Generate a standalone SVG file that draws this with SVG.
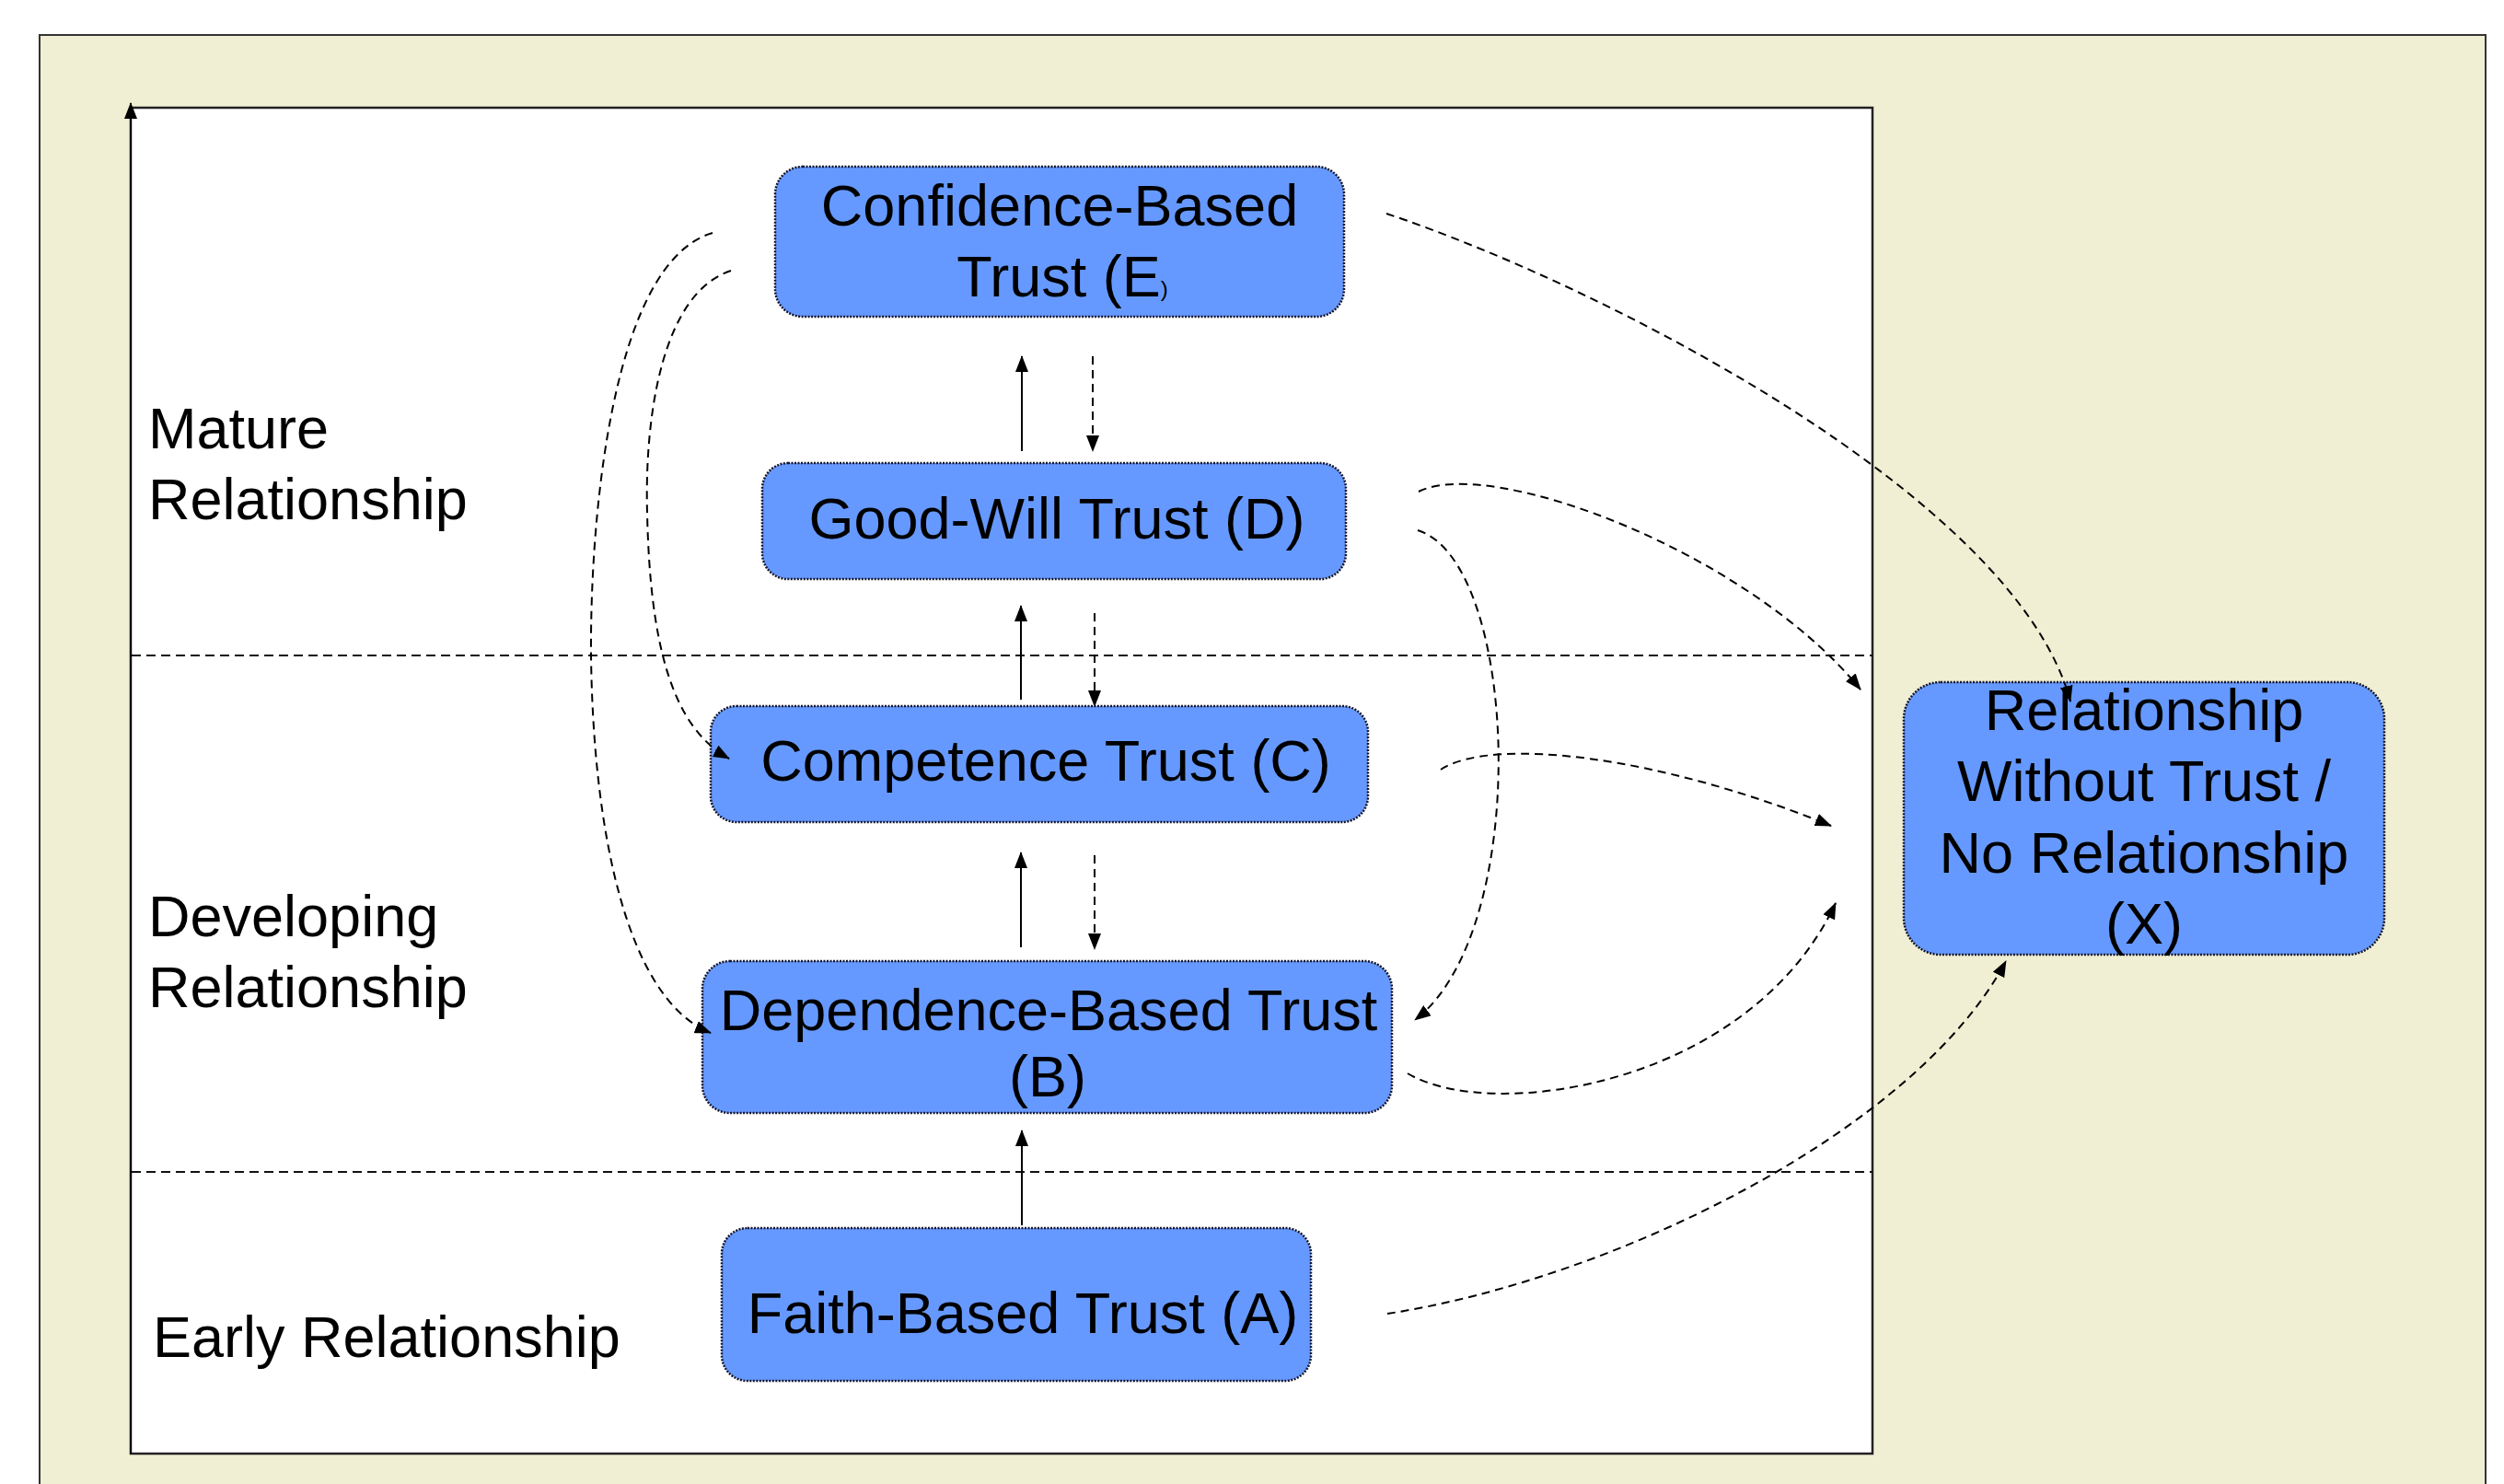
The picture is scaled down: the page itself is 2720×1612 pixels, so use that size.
<svg xmlns="http://www.w3.org/2000/svg" width="2720" height="1612" viewBox="0 0 2720 1612">
  <style>
    .node rect { fill: #6699FF; stroke: #15152a; stroke-width: 2.5; stroke-dasharray: 2 1.5; }
    .node text, .label { font-family: "Liberation Sans", Arial, sans-serif; font-size: 63px; fill: #000; }
    .node text { text-anchor: middle; }
    .solid { fill: none; stroke: #000; stroke-width: 2; marker-end: url(#tip); }
    .dash { fill: none; stroke: #000; stroke-width: 2; stroke-dasharray: 9 6; marker-end: url(#tip); }
    .divider { fill: none; stroke: #111; stroke-width: 2; stroke-dasharray: 10 6; }
  </style>
  <defs>
    <marker id="tip" viewBox="0 0 18 14" markerUnits="userSpaceOnUse" markerWidth="18" markerHeight="14" refX="17" refY="7" orient="auto">
      <path d="M0,0 L18,7 L0,14 z" fill="#000" stroke="none"/>
    </marker>
  </defs>

  <!-- page background and frames -->
  <rect x="0" y="0" width="2720" height="1612" fill="#FFFFFF"/>
  <rect id="outer-frame" x="43" y="38" width="2657" height="1600" fill="#F0EFD3" stroke="#333" stroke-width="2"/>
  <rect id="inner-frame" x="142" y="117" width="1892" height="1462" fill="#FFFFFF" stroke="#222" stroke-width="2.5"/>
  <line id="axis" x1="142" y1="1579" x2="142" y2="112" class="solid"/>

  <!-- stage dividers -->
  <line class="divider" x1="143" y1="712" x2="2034" y2="712"/>
  <line class="divider" x1="143" y1="1273" x2="2034" y2="1273"/>

  <!-- stage labels -->
  <g id="stage-labels">
    <text class="label" x="161" y="487">Mature</text>
    <text class="label" x="161" y="564">Relationship</text>
    <text class="label" x="161" y="1017">Developing</text>
    <text class="label" x="161" y="1094">Relationship</text>
    <text class="label" x="166" y="1474">Early Relationship</text>
  </g>

  <!-- nodes -->
  <g id="node-e" class="node">
    <rect x="842" y="181" width="618" height="163" rx="30" ry="30"/>
    <text x="1151" y="245">Confidence-Based</text>
    <text x="1154" y="322">Trust (E<tspan font-size="24">)</tspan></text>
  </g>
  <g id="node-d" class="node">
    <rect x="828" y="503" width="634" height="126" rx="28" ry="28"/>
    <text x="1148" y="585">Good-Will Trust (D)</text>
  </g>
  <g id="node-c" class="node">
    <rect x="772" y="767" width="714" height="126" rx="28" ry="28"/>
    <text x="1136" y="848">Competence Trust (C)</text>
  </g>
  <g id="node-b" class="node">
    <rect x="763" y="1044" width="749" height="165" rx="30" ry="30"/>
    <text x="1139" y="1119">Dependence-Based Trust</text>
    <text x="1138" y="1191">(B)</text>
  </g>
  <g id="node-a" class="node">
    <rect x="784" y="1334" width="640" height="166" rx="28" ry="28"/>
    <text x="1111" y="1448">Faith-Based Trust (A)</text>
  </g>
  <g id="node-x" class="node">
    <rect x="2068" y="741" width="522" height="296" rx="40" ry="40"/>
    <text x="2329" y="793">Relationship</text>
    <text x="2329" y="870">Without Trust /</text>
    <text x="2329" y="948">No Relationship</text>
    <text x="2329" y="1025">(X)</text>
  </g>

  <!-- connectors, drawn over the nodes so the heads stay visible -->
  <g id="connectors">
    <!-- upward progression -->
    <line class="solid" x1="1110" y1="490" x2="1110" y2="387"/>
    <line class="solid" x1="1109" y1="760" x2="1109" y2="658"/>
    <line class="solid" x1="1109" y1="1029" x2="1109" y2="926"/>
    <line class="solid" x1="1110" y1="1331" x2="1110" y2="1228"/>
    <!-- downward regression -->
    <line class="dash" x1="1187" y1="387" x2="1187" y2="490"/>
    <line class="dash" x1="1189" y1="666" x2="1189" y2="767"/>
    <line class="dash" x1="1189" y1="929" x2="1189" y2="1031"/>
    <!-- E to C and E to B on the left -->
    <path class="dash" d="M794,294 C720,318 700,450 703,557 C706,700 730,790 792,824"/>
    <path class="dash" d="M774,253 C665,285 641,560 642,710 C644,900 680,1085 772,1122"/>
    <!-- D to B on the right -->
    <path class="dash" d="M1540,576 C1650,610 1665,1010 1537,1108"/>
    <!-- exits towards X -->
    <path class="dash" d="M1506,232 C1740,310 2190,540 2249,762"/>
    <path class="dash" d="M1541,534 C1620,495 1900,600 2021,749"/>
    <path class="dash" d="M1565,836 C1620,800 1800,820 1989,897"/>
    <path class="dash" d="M1529,1166 C1620,1220 1900,1180 1994,981"/>
    <path class="dash" d="M1507,1427 C1750,1390 2080,1230 2179,1044"/>
  </g>
</svg>
